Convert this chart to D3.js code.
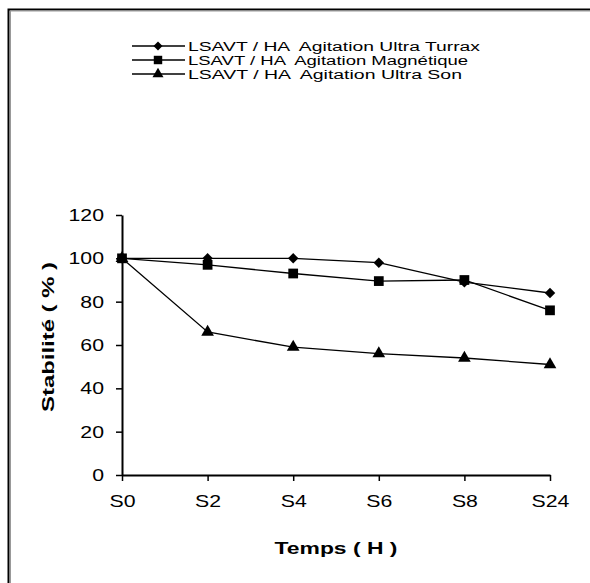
<!DOCTYPE html>
<html>
<head>
<meta charset="utf-8">
<script src="https://cdn.jsdelivr.net/npm/d3@7"></script>
<style>
  html, body { margin: 0; padding: 0; background: #fff; }
  svg { display: block; }
  text { font-family: "Liberation Sans", Arial, sans-serif; fill: #000; white-space: pre; }
</style>
</head>
<body>
<svg id="chart" width="590" height="583"></svg>
<script>
// Sampling times
const categories = ["S0", "S2", "S4", "S6", "S8", "S24"];
// Stability (%) for each agitation method
const turrax = [100, 100, 100, 98, 89, 84];
const magnetique = [100, 97, 93, 89.5, 90, 76];
const ultraSon = [100, 66, 59, 56, 54, 51];
const yTicks = [0, 20, 40, 60, 80, 100, 120];
const seriesNames = [
  "LSAVT / HA  Agitation Ultra Turrax",
  "LSAVT / HA  Agitation Magnétique",
  "LSAVT / HA  Agitation Ultra Son"
];

// Diamond drawn as a square turned 45 degrees, so it is as wide as it is tall
const series = [
  { name: seriesNames[0], values: turrax, symbol: d3.symbolSquare, size: 55, rot: 45, legendLen: 292 },
  { name: seriesNames[1], values: magnetique, symbol: d3.symbolSquare, size: 95, rot: 0, legendLen: 280 },
  { name: seriesNames[2], values: ultraSon, symbol: d3.symbolTriangle, size: 70, rot: 0, legendLen: 274 }
];

const svg = d3.select("#chart");

// Widen a text element horizontally by a factor, keeping its anchor
function widen(sel, factor) {
  sel.each(function () {
    const len = this.getComputedTextLength();
    d3.select(this).attr("textLength", len * factor).attr("lengthAdjust", "spacingAndGlyphs");
  });
}

// Outer frame (only top and left edges fall inside the view)
svg.append("rect")
  .attr("x", 8.5).attr("y", 9.5).attr("width", 640).attr("height", 640)
  .attr("fill", "none").attr("stroke", "#000").attr("stroke-width", 2);
svg.append("path")
  .attr("d", "M10.5,700V11H700")
  .attr("fill", "none").attr("stroke", "#999").attr("stroke-width", 1);

const x = d3.scalePoint().domain(categories).range([122, 550]);
const y = d3.scaleLinear().domain([0, 120]).range([475, 215]);

// Y axis
const yAxis = svg.append("g").attr("transform", "translate(122,0)")
  .call(d3.axisLeft(y).tickValues(yTicks).tickSize(6).tickPadding(12).tickSizeOuter(0));
yAxis.select(".domain").attr("stroke", "#000").attr("stroke-width", 2);
yAxis.selectAll(".tick line").attr("stroke", "#000").attr("stroke-width", 1.5);
yAxis.selectAll(".tick text").attr("font-size", 17).attr("font-family", "Liberation Sans, Arial, sans-serif").attr("fill", "#000").call(widen, 1.25);

// X axis
const xAxis = svg.append("g").attr("transform", "translate(0,475)")
  .call(d3.axisBottom(x).tickSize(6).tickPadding(14).tickSizeOuter(0));
xAxis.select(".domain").attr("stroke", "#000").attr("stroke-width", 2);
xAxis.selectAll(".tick line").attr("stroke", "#000").attr("stroke-width", 1.5);
xAxis.selectAll(".tick text").attr("font-size", 17).attr("font-family", "Liberation Sans, Arial, sans-serif").attr("fill", "#000").call(widen, 1.25);

// Axis titles
svg.append("text")
  .attr("x", 336).attr("y", 554)
  .attr("text-anchor", "middle")
  .attr("font-size", 17).attr("font-weight", "bold")
  .attr("textLength", 123).attr("lengthAdjust", "spacingAndGlyphs")
  .text("Temps ( H )");
svg.append("text")
  .attr("transform", "translate(54,337) rotate(-90)")
  .attr("text-anchor", "middle")
  .attr("font-size", 17).attr("font-weight", "bold")
  .attr("textLength", 150).attr("lengthAdjust", "spacingAndGlyphs")
  .text("Stabilité ( % )");

// Series lines and markers
const line = d3.line().x((d, i) => x(categories[i])).y(d => y(d));
series.forEach(s => {
  svg.append("path")
    .attr("d", line(s.values))
    .attr("fill", "none").attr("stroke", "#000").attr("stroke-width", 1.3);
  svg.append("g").selectAll("path")
    .data(s.values)
    .join("path")
    .attr("transform", (d, i) => `translate(${x(categories[i])},${y(d)}) rotate(${s.rot})`)
    .attr("d", d3.symbol().type(s.symbol).size(s.size))
    .attr("fill", "#000");
});

// Legend
const legend = svg.append("g");
series.forEach((s, i) => {
  const ly = 46 + i * 14;
  legend.append("line")
    .attr("x1", 132).attr("x2", 185).attr("y1", ly).attr("y2", ly)
    .attr("stroke", "#000").attr("stroke-width", 1.5);
  legend.append("path")
    .attr("transform", `translate(158,${ly}) rotate(${s.rot})`)
    .attr("d", d3.symbol().type(s.symbol).size(s.size * 0.75))
    .attr("fill", "#000");
  legend.append("text")
    .attr("x", 188).attr("y", ly + 4.5)
    .attr("font-size", 12)
    .attr("textLength", s.legendLen).attr("lengthAdjust", "spacingAndGlyphs")
    .text(s.name);
});
</script>
</body>
</html>
